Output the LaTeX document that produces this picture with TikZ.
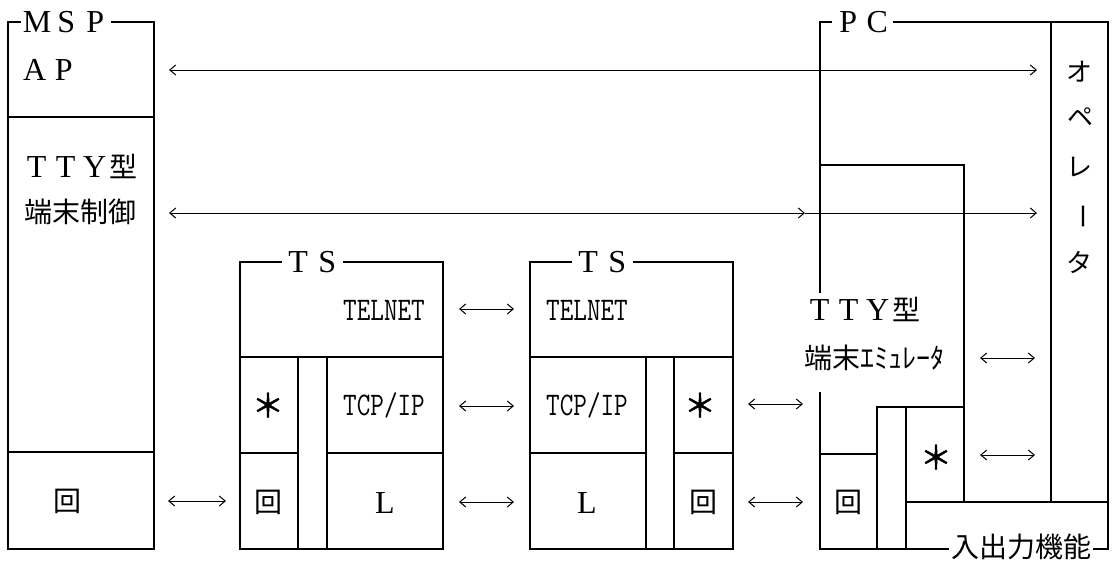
\documentclass[tikz,border=0pt]{standalone}
\usepackage{fontspec}
\setmainfont{Liberation Serif}
\newfontfamily\jp{Noto Sans CJK JP}
\newfontfamily\jpbold{Noto Sans CJK JP}[FakeBold=1.5]
\usetikzlibrary{arrows.meta}
\newcommand\fwl[1]{\makebox[29pt]{#1}}
\newcommand\cond[1]{\scalebox{0.8}[1]{\ttfamily\fontsize{33}{33}\selectfont #1}}
\tikzset{
  frame/.style={line width=1.2pt},
  ioframe/.style={line width=2.2pt},
  lat/.style={font=\fontsize{32}{32}\selectfont, inner sep=0pt},
  lbl/.style={font=\fontsize{32}{32}\selectfont, inner sep=1.5pt, fill=white},
  jpt/.style={font=\jp\fontsize{28}{28}\selectfont, inner sep=0pt},
  star/.style={font=\jpbold\fontsize{32}{32}\selectfont, inner sep=0pt},
  jplbl/.style={font=\jp\fontsize{28}{28}\selectfont, inner sep=2pt, fill=white},
  opt/.style={font=\jp\fontsize{26}{26}\selectfont, inner sep=0pt},
  cnd/.style={inner sep=0pt},
  arr/.style={line width=1pt, {Straight Barb[length=6pt,width=10pt]}-{Straight Barb[length=6pt,width=10pt]}},
  rarr/.style={line width=1pt, -{Straight Barb[length=6pt,width=10pt]}},
}
\begin{document}
\begin{tikzpicture}[x=1pt,y=-1pt]
\useasboundingbox (0,0) rectangle (1115,562);
% ---------- MSP ----------
\draw[frame] (8,22) rectangle (154,549);
\draw[frame] (8,117) -- (154,117);
\draw[frame] (8,452) -- (154,452);
% ---------- TS1 ----------
\draw[frame] (240,262) rectangle (443,549);
\draw[frame] (240,357) -- (443,357);
\draw[frame] (240,453) -- (298,453);
\draw[frame] (327,453) -- (443,453);
\draw[frame] (298,357) -- (298,549);
\draw[frame] (327,357) -- (327,549);
% ---------- TS2 ----------
\draw[frame] (530,262) rectangle (733,549);
\draw[frame] (530,357) -- (733,357);
\draw[frame] (530,453) -- (646,453);
\draw[frame] (674,453) -- (733,453);
\draw[frame] (646,357) -- (646,549);
\draw[frame] (674,357) -- (674,549);
% ---------- PC ----------
\draw[frame] (820,293) -- (820,22) -- (1108,22) -- (1108,502);
\draw[frame] (820,392) -- (820,549) -- (906,549);
\draw[frame] (1051,22) -- (1051,502);
\draw[frame] (820,165) -- (964,165) -- (964,502);
\draw[frame] (964,407) -- (877,407) -- (877,549);
\draw[frame] (906,407) -- (906,502);
\draw[frame] (820,454) -- (877,454);
\draw[ioframe] (906,502) rectangle (1108,549);
% ---------- labels ----------
\node[lbl, anchor=west] (msp) at (21,22) {\fwl{M}\fwl{S}\fwl{P}};
\node[lbl, anchor=west] (ts1) at (282,262) {\fwl{T}\fwl{S}};
\node[lbl, anchor=west] (ts2) at (572,262) {\fwl{T}\fwl{S}};
\node[lbl, anchor=west] (pc) at (832,22) {\fwl{P}\fwl{C}};
\node[jplbl] (io) at (1021,547) {入出力機能};
% ---------- texts ----------
\node[lat, anchor=base west] (ap) at (20,80) {\fwl{A}\fwl{P}};
\node[lat, anchor=base west] (tty1) at (22,177) {\fwl{T}\fwl{T}\fwl{Y}{\jp\fontsize{28}{28}\selectfont 型}};
\node[jpt, anchor=west] (ctl) at (24,211.5) {端末制御};
\node[jpt] (k1) at (67,501) {回};
\node[cnd, anchor=base] (tel1) at (384,320) {\cond{TELNET}};
\node[cnd, anchor=base] (tcp1) at (384,415) {\cond{TCP/IP}};
\node[lat, anchor=base] (l1) at (385,513) {L};
\node[star] (s1) at (268,405) {＊};
\node[jpt] (k2) at (268,502) {回};
\node[cnd, anchor=base] (tel2) at (587,320) {\cond{TELNET}};
\node[cnd, anchor=base] (tcp2) at (587,415) {\cond{TCP/IP}};
\node[lat, anchor=base] (l2) at (587,513) {L};
\node[star] (s2) at (700,405) {＊};
\node[jpt] (k3) at (703,502) {回};
\node[lat, anchor=base west] (tty2) at (805,320) {\fwl{T}\fwl{T}\fwl{Y}{\jp\fontsize{28}{28}\selectfont 型}};
\node[jpt, anchor=west] (emu) at (804,357.5) {端末ｴﾐｭﾚｰﾀ};
\node[jpt] (k4) at (848,502) {回};
\node[star] (s3) at (936,457) {＊};
\node[opt] (o1) at (1079,72) {オ};
\node[opt] (o2) at (1080,117) {ペ};
\node[opt] (o3) at (1079,167) {レ};
\node[opt] (o4) at (1079,216) {\rotatebox[origin=c]{-90}{ー}};
\node[opt] (o5) at (1079,262) {タ};
% ---------- arrow end points ----------
\coordinate (apL) at (169,70);   \coordinate (apR) at (1037,70);
\coordinate (ttL) at (169,213);  \coordinate (ttM) at (805,213);  \coordinate (ttR) at (1037,213);
\coordinate (teL) at (459,309);  \coordinate (teR) at (514,309);
\coordinate (tcL) at (459,406);  \coordinate (tcR) at (514,406);
\coordinate (lL) at (459,502);   \coordinate (lR) at (514,502);
\coordinate (mkL) at (168,501);  \coordinate (mkR) at (226,501);
\coordinate (psL) at (748,404);  \coordinate (psR) at (803,404);
\coordinate (pkL) at (748,502);  \coordinate (pkR) at (803,502);
\coordinate (eL) at (980,358);   \coordinate (eR) at (1035,358);
\coordinate (sL) at (980,455);   \coordinate (sR) at (1035,455);
\draw[arr] (apL) -- (apR);
\draw[arr] (ttL) -- (ttM);
\draw[rarr] (ttM) -- (ttR);
\draw[arr] (teL) -- (teR);
\draw[arr] (tcL) -- (tcR);
\draw[arr] (lL) -- (lR);
\draw[arr] (mkL) -- (mkR);
\draw[arr] (psL) -- (psR);
\draw[arr] (pkL) -- (pkR);
\draw[arr] (eL) -- (eR);
\draw[arr] (sL) -- (sR);
\end{tikzpicture}
\end{document}
